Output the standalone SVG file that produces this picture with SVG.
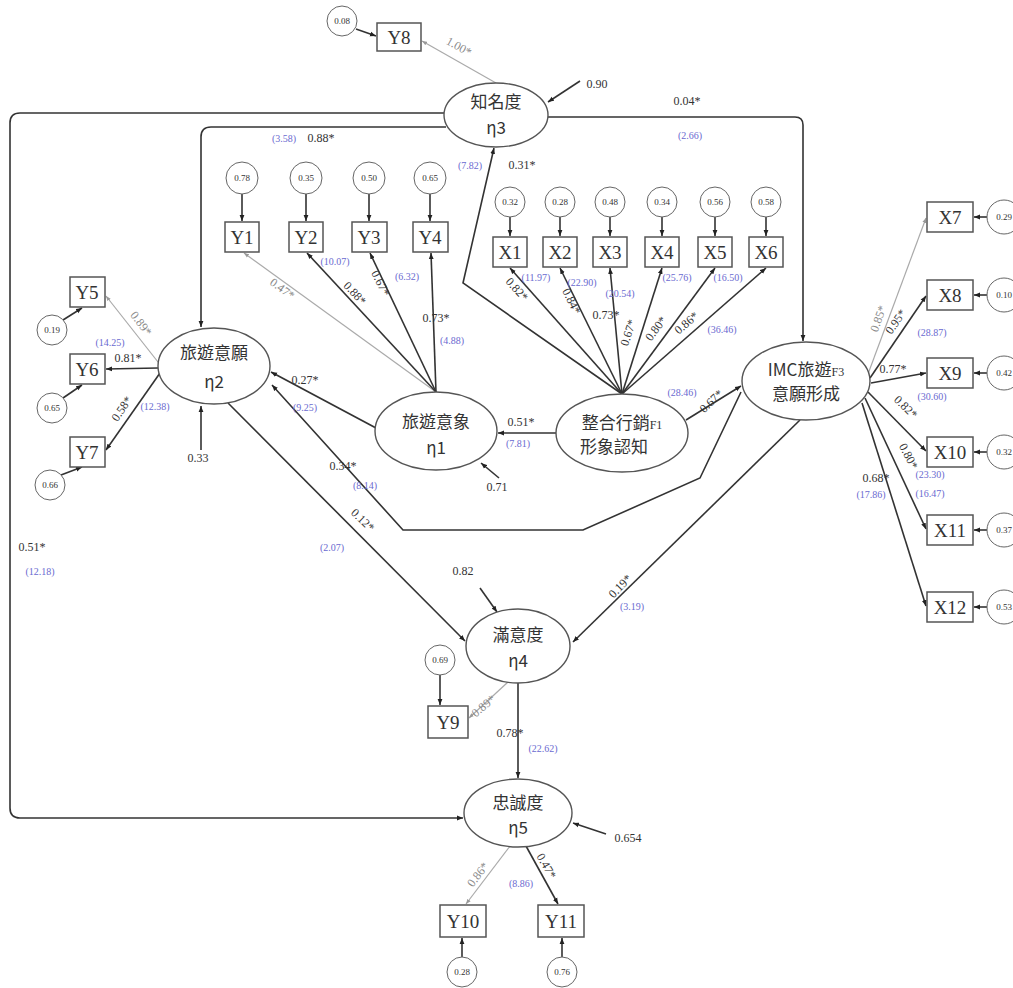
<svg xmlns="http://www.w3.org/2000/svg" width="1013" height="988" viewBox="0 0 1013 988">
<style>
.ln{stroke:#333;stroke-width:1.6;fill:none;marker-end:url(#ah)}
.lg{stroke:#aaa;stroke-width:1.2;fill:none;marker-end:url(#ahg)}
.box{fill:#fff;stroke:#555;stroke-width:1.5}
.ell{fill:#fff;stroke:#555;stroke-width:1.4}
.err{fill:#fff;stroke:#666;stroke-width:1}
.bt{font-family:"Liberation Serif",serif;font-size:19px;fill:#333;text-anchor:middle}
.et{font-family:"Noto Sans CJK TC",sans-serif;font-size:17px;fill:#333;text-anchor:middle}
.ct{font-family:"Liberation Serif",serif;font-size:9px;fill:#333;text-anchor:middle}
.k{font-family:"Liberation Serif",serif;font-size:12px;fill:#333;text-anchor:middle}
.g{font-family:"Liberation Serif",serif;font-size:12px;fill:#888;text-anchor:middle}
.b{font-family:"Liberation Serif",serif;font-size:10px;fill:#6a6ad0;text-anchor:middle}
</style>
<defs>
<marker id="ah" viewBox="0 0 10 10" refX="10" refY="5" markerWidth="6" markerHeight="6" markerUnits="userSpaceOnUse" orient="auto"><path d="M0,1 L10,5 L0,9 z" fill="#222"/></marker>
<marker id="ahg" viewBox="0 0 10 10" refX="10" refY="5" markerWidth="5" markerHeight="5" markerUnits="userSpaceOnUse" orient="auto"><path d="M0,1 L10,5 L0,9 z" fill="#999"/></marker>
</defs>
<rect width="1013" height="988" fill="#fff"/>

<g id="connectors">
<path class="ln" d="M356,29 L376,36"/>
<path class="lg" d="M496,83 L422,41"/>
<path class="ln" d="M580,81 L548,102"/>
<path class="ln" d="M548,117 H795 Q803,117 803,125 V341"/>
<path class="ln" d="M444,113 H20 Q10,113 10,123 V808 Q10,818 20,818 H463"/>
<path class="ln" d="M446,127 H211 Q201,127 201,137 V327"/>
<path class="ln" d="M622,394 L463,283 L494,148"/>
<path class="ln" d="M622,394 L510,268"/>
<path class="ln" d="M622,394 L560,268"/>
<path class="ln" d="M622,394 L610,268"/>
<path class="ln" d="M622,394 L662,268"/>
<path class="ln" d="M622,394 L715,268"/>
<path class="ln" d="M622,394 L766,268"/>
<path class="ln" d="M510,217 V236"/>
<path class="ln" d="M560,217 V236"/>
<path class="ln" d="M610,217 V236"/>
<path class="ln" d="M662,217 V236"/>
<path class="ln" d="M715,217 V236"/>
<path class="ln" d="M766,217 V236"/>
<path class="ln" d="M242,194 V221"/>
<path class="ln" d="M306,194 V221"/>
<path class="ln" d="M369,194 V221"/>
<path class="ln" d="M430,194 V221"/>
<path class="lg" d="M436,392 L244,253"/>
<path class="ln" d="M436,392 L307,253"/>
<path class="ln" d="M436,392 L370,253"/>
<path class="ln" d="M436,392 L431,253"/>
<path class="ln" d="M376,428 L271,372"/>
<path class="ln" d="M556,433 L498,433"/>
<path class="ln" d="M499,478 L481,463"/>
<path class="ln" d="M686,420 L741,386"/>
<path class="ln" d="M741,392 L700,478 L583,530 L403,530 L272,385"/>
<path class="ln" d="M228,403 L465,641"/>
<path class="ln" d="M800,420 L573,642"/>
<path class="ln" d="M201,450 V406"/>
<path class="lg" d="M158,362 L106,296"/>
<path class="ln" d="M158,368 L106,369"/>
<path class="ln" d="M160,373 L106,450"/>
<path class="ln" d="M63,320 L82,308"/>
<path class="ln" d="M63,398 L82,385"/>
<path class="ln" d="M61,475 L82,467"/>
<path class="ln" d="M480,588 L497,612"/>
<path class="ln" d="M440,675 V705"/>
<path class="lg" d="M508,682 L469,718"/>
<path class="ln" d="M518,683 V778"/>
<path class="ln" d="M606,834 L573,823"/>
<path class="lg" d="M510,846 L466,904"/>
<path class="ln" d="M526,846 L558,904"/>
<path class="ln" d="M462,957 V938"/>
<path class="ln" d="M562,957 V938"/>
<path class="lg" d="M868,374 L926,218"/>
<path class="ln" d="M870,378 L926,296"/>
<path class="ln" d="M871,383 L926,373"/>
<path class="ln" d="M868,392 L926,451"/>
<path class="ln" d="M865,398 L926,529"/>
<path class="ln" d="M862,403 L926,606"/>
<path class="ln" d="M987,217 H974"/>
<path class="ln" d="M987,295 H974"/>
<path class="ln" d="M987,373 H974"/>
<path class="ln" d="M987,452 H974"/>
<path class="ln" d="M987,530 H974"/>
<path class="ln" d="M987,607 H974"/>
</g>

<g id="labels">
<text class="g" transform="translate(457,50) rotate(29)">1.00*</text>
<text class="k" x="597" y="88">0.90</text>
<text class="k" x="687" y="105">0.04*</text>
<text class="b" x="690" y="139">(2.66)</text>
<text class="b" x="284" y="142">(3.58)</text>
<text class="k" x="321" y="142">0.88*</text>
<text class="b" x="470" y="169">(7.82)</text>
<text class="k" x="522" y="169">0.31*</text>
<text class="g" transform="translate(280,292) rotate(36)">0.47*</text>
<text class="k" transform="translate(352,296) rotate(47)">0.88*</text>
<text class="b" x="335" y="265">(10.07)</text>
<text class="k" transform="translate(377,285) rotate(64)">0.67*</text>
<text class="b" x="407" y="280">(6.32)</text>
<text class="k" x="436" y="322">0.73*</text>
<text class="b" x="452" y="344">(4.88)</text>
<text class="k" transform="translate(514,292) rotate(48)">0.82*</text>
<text class="b" x="536" y="281">(11.97)</text>
<text class="k" transform="translate(568,303) rotate(64)">0.84*</text>
<text class="b" x="582" y="286">(22.90)</text>
<text class="b" x="620" y="297">(20.54)</text>
<text class="k" x="606" y="319">0.73*</text>
<text class="k" transform="translate(632,334) rotate(-72)">0.67*</text>
<text class="k" transform="translate(659,331) rotate(-53)">0.80*</text>
<text class="k" transform="translate(689,326) rotate(-41)">0.86*</text>
<text class="b" x="677" y="281">(25.76)</text>
<text class="b" x="728" y="281">(16.50)</text>
<text class="b" x="722" y="333">(36.46)</text>
<text class="k" x="305" y="384">0.27*</text>
<text class="b" x="305" y="411">(9.25)</text>
<text class="k" x="521" y="426">0.51*</text>
<text class="b" x="518" y="447">(7.81)</text>
<text class="k" x="497" y="491">0.71</text>
<text class="k" x="343" y="470">0.34*</text>
<text class="b" x="365" y="489">(8.14)</text>
<text class="b" x="682" y="396">(28.46)</text>
<text class="k" transform="translate(714,404) rotate(-44)">0.67*</text>
<text class="g" transform="translate(138,326) rotate(52)">0.89*</text>
<text class="b" x="110" y="346">(14.25)</text>
<text class="k" x="128" y="362">0.81*</text>
<text class="k" transform="translate(125,411) rotate(-56)">0.58*</text>
<text class="b" x="155" y="410">(12.38)</text>
<text class="k" x="198" y="462">0.33</text>
<text class="k" transform="translate(360,523) rotate(44)">0.12*</text>
<text class="b" x="332" y="551">(2.07)</text>
<text class="k" x="463" y="575">0.82</text>
<text class="k" transform="translate(623,589) rotate(-46)">0.19*</text>
<text class="b" x="632" y="610">(3.19)</text>
<text class="g" transform="translate(486,709) rotate(-40)">0.89*</text>
<text class="k" x="510" y="737">0.78*</text>
<text class="b" x="543" y="752">(22.62)</text>
<text class="k" x="628" y="842">0.654</text>
<text class="g" transform="translate(481,877) rotate(-52)">0.86*</text>
<text class="k" transform="translate(543,868) rotate(60)">0.47*</text>
<text class="b" x="521" y="887">(8.86)</text>
<text class="k" x="32" y="551">0.51*</text>
<text class="b" x="40" y="575">(12.18)</text>
<text class="g" transform="translate(882,320) rotate(-70)">0.85*</text>
<text class="k" transform="translate(899,324) rotate(-55)">0.95*</text>
<text class="b" x="932" y="336">(28.87)</text>
<text class="k" x="893" y="373">0.77*</text>
<text class="b" x="932" y="400">(30.60)</text>
<text class="k" transform="translate(903,410) rotate(44)">0.82*</text>
<text class="k" transform="translate(905,458) rotate(63)">0.80*</text>
<text class="b" x="930" y="478">(23.30)</text>
<text class="b" x="930" y="497">(16.47)</text>
<text class="k" x="876" y="482">0.68*</text>
<text class="b" x="871" y="498">(17.86)</text>
</g>

<g id="n_eta3"><ellipse class="ell" cx="496" cy="115" rx="52" ry="32"/><text class="et" x="496" y="108" font-size="18">知名度</text><text class="et" x="496" y="134" font-size="15">η3</text></g>
<g id="n_eta2"><ellipse class="ell" cx="214" cy="366" rx="56" ry="38"/><text class="et" x="214" y="359">旅遊意願</text><text class="et" x="214" y="388" font-size="15">η2</text></g>
<g id="n_eta1"><ellipse class="ell" cx="436" cy="431" rx="61" ry="39"/><text class="et" x="436" y="428">旅遊意象</text><text class="et" x="436" y="454" font-size="15">η1</text></g>
<g id="n_F1"><ellipse class="ell" cx="622" cy="433" rx="66" ry="39"/><text class="et" x="622" y="429">整合行銷<tspan font-size="12" font-family="Liberation Serif">F1</tspan></text><text class="et" x="614" y="453">形象認知</text></g>
<g id="n_F3"><ellipse class="ell" cx="806" cy="381" rx="64" ry="39"/><text class="et" x="806" y="376">IMC旅遊<tspan font-size="12" font-family="Liberation Serif">F3</tspan></text><text class="et" x="806" y="400">意願形成</text></g>
<g id="n_eta4"><ellipse class="ell" cx="518" cy="646" rx="52" ry="37"/><text class="et" x="518" y="641" font-size="18">滿意度</text><text class="et" x="518" y="667" font-size="15">η4</text></g>
<g id="n_eta5"><ellipse class="ell" cx="518" cy="813" rx="54" ry="34"/><text class="et" x="518" y="809" font-size="18">忠誠度</text><text class="et" x="518" y="834" font-size="15">η5</text></g>

<g id="n_Y8"><rect class="box" x="377" y="23" width="44" height="28"/><text class="bt" x="399" y="44">Y8</text><circle class="err" cx="342" cy="21" r="15"/><text class="ct" x="342" y="24">0.08</text></g>
<g id="n_Y1"><rect class="box" x="225" y="222" width="34" height="30"/><text class="bt" x="242" y="244">Y1</text><circle class="err" cx="242" cy="178" r="16"/><text class="ct" x="242" y="181">0.78</text></g>
<g id="n_Y2"><rect class="box" x="289" y="222" width="34" height="30"/><text class="bt" x="306" y="244">Y2</text><circle class="err" cx="306" cy="178" r="16"/><text class="ct" x="306" y="181">0.35</text></g>
<g id="n_Y3"><rect class="box" x="352" y="222" width="35" height="30"/><text class="bt" x="369" y="244">Y3</text><circle class="err" cx="369" cy="178" r="16"/><text class="ct" x="369" y="181">0.50</text></g>
<g id="n_Y4"><rect class="box" x="413" y="222" width="35" height="30"/><text class="bt" x="430" y="244">Y4</text><circle class="err" cx="430" cy="178" r="16"/><text class="ct" x="430" y="181">0.65</text></g>
<g id="n_X1"><rect class="box" x="493" y="237" width="34" height="30"/><text class="bt" x="510" y="259">X1</text><circle class="err" cx="510" cy="202" r="15"/><text class="ct" x="510" y="205">0.32</text></g>
<g id="n_X2"><rect class="box" x="543" y="237" width="34" height="30"/><text class="bt" x="560" y="259">X2</text><circle class="err" cx="560" cy="202" r="15"/><text class="ct" x="560" y="205">0.28</text></g>
<g id="n_X3"><rect class="box" x="593" y="237" width="34" height="30"/><text class="bt" x="610" y="259">X3</text><circle class="err" cx="610" cy="202" r="15"/><text class="ct" x="610" y="205">0.48</text></g>
<g id="n_X4"><rect class="box" x="645" y="237" width="34" height="30"/><text class="bt" x="662" y="259">X4</text><circle class="err" cx="662" cy="202" r="15"/><text class="ct" x="662" y="205">0.34</text></g>
<g id="n_X5"><rect class="box" x="698" y="237" width="34" height="30"/><text class="bt" x="715" y="259">X5</text><circle class="err" cx="715" cy="202" r="15"/><text class="ct" x="715" y="205">0.56</text></g>
<g id="n_X6"><rect class="box" x="749" y="237" width="34" height="30"/><text class="bt" x="766" y="259">X6</text><circle class="err" cx="766" cy="202" r="15"/><text class="ct" x="766" y="205">0.58</text></g>
<g id="n_Y5"><rect class="box" x="70" y="277" width="35" height="30"/><text class="bt" x="87" y="299">Y5</text><circle class="err" cx="52" cy="330" r="15"/><text class="ct" x="52" y="333">0.19</text></g>
<g id="n_Y6"><rect class="box" x="70" y="354" width="35" height="30"/><text class="bt" x="87" y="376">Y6</text><circle class="err" cx="52" cy="408" r="15"/><text class="ct" x="52" y="411">0.65</text></g>
<g id="n_Y7"><rect class="box" x="70" y="437" width="35" height="30"/><text class="bt" x="87" y="459">Y7</text><circle class="err" cx="50" cy="485" r="15"/><text class="ct" x="50" y="488">0.66</text></g>
<g id="n_Y9"><rect class="box" x="428" y="706" width="40" height="32"/><text class="bt" x="448" y="729">Y9</text><circle class="err" cx="440" cy="660" r="15"/><text class="ct" x="440" y="663">0.69</text></g>
<g id="n_Y10"><rect class="box" x="440" y="905" width="46" height="32"/><text class="bt" x="463" y="928">Y10</text><circle class="err" cx="462" cy="972" r="15"/><text class="ct" x="462" y="975">0.28</text></g>
<g id="n_Y11"><rect class="box" x="538" y="905" width="46" height="32"/><text class="bt" x="561" y="928">Y11</text><circle class="err" cx="562" cy="972" r="15"/><text class="ct" x="562" y="975">0.76</text></g>
<g id="n_X7"><rect class="box" x="927" y="202" width="46" height="30"/><text class="bt" x="950" y="224">X7</text><circle class="err" cx="1004" cy="217" r="17"/><text class="ct" x="1004" y="220">0.29</text></g>
<g id="n_X8"><rect class="box" x="927" y="280" width="46" height="30"/><text class="bt" x="950" y="302">X8</text><circle class="err" cx="1004" cy="295" r="17"/><text class="ct" x="1004" y="298">0.10</text></g>
<g id="n_X9"><rect class="box" x="927" y="358" width="46" height="30"/><text class="bt" x="950" y="380">X9</text><circle class="err" cx="1004" cy="373" r="17"/><text class="ct" x="1004" y="376">0.42</text></g>
<g id="n_X10"><rect class="box" x="927" y="437" width="46" height="30"/><text class="bt" x="950" y="459">X10</text><circle class="err" cx="1004" cy="452" r="17"/><text class="ct" x="1004" y="455">0.32</text></g>
<g id="n_X11"><rect class="box" x="927" y="515" width="46" height="30"/><text class="bt" x="950" y="537">X11</text><circle class="err" cx="1004" cy="530" r="17"/><text class="ct" x="1004" y="533">0.37</text></g>
<g id="n_X12"><rect class="box" x="927" y="592" width="46" height="30"/><text class="bt" x="950" y="614">X12</text><circle class="err" cx="1004" cy="607" r="17"/><text class="ct" x="1004" y="610">0.53</text></g>
</svg>
